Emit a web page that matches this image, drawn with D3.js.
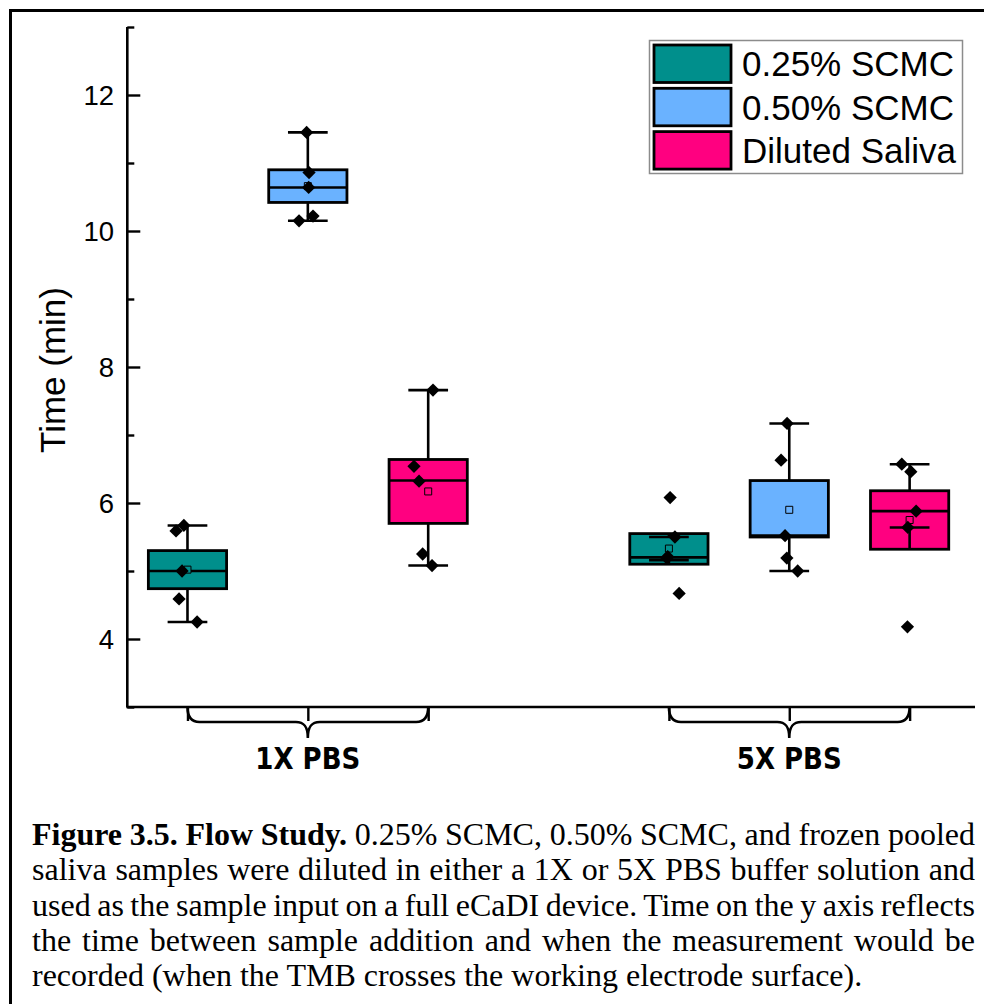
<!DOCTYPE html>
<html>
<head>
<meta charset="utf-8">
<script src="https://cdn.jsdelivr.net/npm/d3@7"></script>
<style>
  html, body { margin: 0; padding: 0; background: #fff; }
  #wrap { position: relative; width: 984px; height: 1004px; overflow: hidden; }
  svg { position: absolute; left: 0; top: 0; }
  #caption { position: absolute; left: 32px; top: 817px; width: 943px;
    font-family: "Liberation Serif", "Times New Roman", serif; font-size: 32px;
    line-height: 35.3px; color: #000; }
  #caption div { white-space: nowrap; }
  #caption span.ln { display: inline-block; }
</style>
</head>
<body>
<div id="wrap">
<svg id="chart" width="984" height="1004"></svg>
<div id="caption"></div>
</div>
<script>
// ---------------- data ----------------
const categories = ["0.25% SCMC", "0.50% SCMC", "Diluted Saliva"];
const colors = ["#008F8C", "#6AB2FF", "#FF0080"];
const groups = ["1X PBS", "5X PBS"];
const groupPositions = [[1, 2, 3], [5, 6, 7]];
const positions = [1, 2, 3, 5, 6, 7];
const boxSeries = [0, 1, 2, 0, 1, 2];
const boxLow = [4.74, 10.42, 5.70, 5.10, 5.50, 5.32];
const boxHigh = [5.30, 10.90, 6.64, 5.55, 6.33, 6.18];
const medians = [5.00, 10.64, 6.33, 5.20, 5.52, 5.88];
const whiskerLow = [4.25, 10.15, 5.08, 5.16, 5.00, 5.64];
const whiskerHigh = [5.67, 11.45, 7.66, 5.50, 7.17, 6.57];
const means = [5.02, 10.66, 6.17, 5.33, 5.90, 5.75];
const points = [
  [5.67, 5.59, 5.00, 4.59, 4.25],
  [11.45, 10.86, 10.64, 10.15, 10.22],
  [7.66, 6.54, 6.32, 5.25, 5.08],
  [6.08, 5.50, 5.21, 5.19, 4.67],
  [7.17, 6.63, 5.52, 5.19, 5.00],
  [6.57, 6.46, 5.88, 5.64, 4.18]
];
const jitter = [
  [-0.03, -0.095, -0.045, -0.07, 0.08],
  [-0.01, 0.01, 0.007, -0.073, 0.043],
  [0.04, -0.118, -0.076, -0.046, 0.032],
  [0.01, 0.05, -0.01, -0.017, 0.085],
  [-0.018, -0.068, -0.035, -0.02, 0.07],
  [-0.065, 0.01, 0.054, -0.015, -0.018]
];
const yMajorTicks = [4, 6, 8, 10, 12];
const yMinorTicks = [3, 5, 7, 9, 11, 13];
const yDomain = [3, 13];
const xDomain = [0.5, 7.5];
const yTitle = "Time (min)";
const captionLines = [
  ["Figure 3.5. Flow Study.", " 0.25% SCMC, 0.50% SCMC, and frozen pooled"],
  ["", "saliva samples were diluted in either a 1X or 5X PBS buffer solution and"],
  ["", "used as the sample input on a full eCaDI device. Time on the y axis reflects"],
  ["", "the time between sample addition and when the measurement would be"],
  ["", "recorded (when the TMB crosses the working electrode surface)."]
];

// ---------------- drawing ----------------
const svg = d3.select("#chart");
const sans = "'Liberation Sans', Arial, sans-serif";

// outer frame (top and left rules)
svg.append("line").attr("x1", 10).attr("y1", 10.5).attr("x2", 984).attr("y2", 10.5)
  .attr("stroke", "#000").attr("stroke-width", 3);
svg.append("line").attr("x1", 10.5).attr("y1", 9).attr("x2", 10.5).attr("y2", 1004)
  .attr("stroke", "#000").attr("stroke-width", 3);

const x = d3.scaleLinear().domain(xDomain).range([127.3, 969.8]);
const y = d3.scaleLinear().domain(yDomain).range([707, 27]);

const plot = svg.append("g");

// y axis
const yAxisMajor = d3.axisRight(y).tickValues(yMajorTicks).tickSize(13).tickFormat("");
const yAxisMinor = d3.axisRight(y).tickValues(yMinorTicks).tickSize(7).tickFormat("");
const gyMinor = plot.append("g").attr("transform", "translate(127.3,0)").call(yAxisMinor);
const gyMajor = plot.append("g").attr("transform", "translate(127.3,0)").call(yAxisMajor);
[gyMinor, gyMajor].forEach(g => {
  g.select(".domain").attr("stroke", "#000").attr("stroke-width", 2.6).attr("d", `M0,${y(13)}V${y(3)}`);
  g.selectAll(".tick line").attr("stroke", "#000").attr("stroke-width", 2.4);
});
gyMinor.select(".domain").remove();
// y tick labels
plot.append("g").selectAll("text").data(yMajorTicks).join("text")
  .attr("x", 114).attr("y", d => y(d)).attr("dy", "0.36em")
  .attr("text-anchor", "end").attr("font-family", sans).attr("font-size", 27.5)
  .text(d => d);
// y title
plot.append("text")
  .attr("transform", `translate(65,${(y(3) + y(13)) / 2 + 3}) rotate(-90)`)
  .attr("text-anchor", "middle").attr("font-family", sans).attr("font-size", 35)
  .text(yTitle);

// x axis
const xAxis = d3.axisBottom(x).tickValues(positions).tickSize(14).tickFormat("");
const gx = plot.append("g").attr("transform", `translate(0,${y(3)})`).call(xAxis);
gx.select(".domain").attr("stroke", "#000").attr("stroke-width", 2.6)
  .attr("d", `M${x(xDomain[0]) - 1},0H975`);
gx.selectAll(".tick line").attr("stroke", "#000").attr("stroke-width", 2.4);

// braces + group labels
const y0 = y(3), yH = y(3) + 15, yTip = y(3) + 31;
groupPositions.forEach((gp, gi) => {
  const x1 = x(gp[0]), xc = x(gp[1]), x3 = x(gp[2]);
  const r = 12;
  const path = `M${x1},${y0} C${x1},${yH - 6} ${x1 + 3},${yH} ${x1 + r},${yH}` +
    ` L${xc - r},${yH} C${xc - 4},${yH} ${xc},${yH + 4} ${xc},${yTip}` +
    ` C${xc},${yH + 4} ${xc + 4},${yH} ${xc + r},${yH}` +
    ` L${x3 - r},${yH} C${x3 - 3},${yH} ${x3},${yH - 6} ${x3},${y0}`;
  plot.append("path").attr("d", path).attr("fill", "none")
    .attr("stroke", "#000").attr("stroke-width", 2.6);
  plot.append("text").attr("x", xc).attr("y", yTip + 31)
    .attr("text-anchor", "middle").attr("font-family", "'DejaVu Sans', Verdana, sans-serif")
    .attr("font-weight", "bold").attr("font-size", 30)
    .attr("textLength", 105).attr("lengthAdjust", "spacingAndGlyphs")
    .text(groups[gi]);
});

// boxes
const boxHalf = x(1.325) - x(1);
const capHalf = x(1.165) - x(1);
positions.forEach((p, i) => {
  const cx = x(p);
  const col = colors[boxSeries[i]];
  const g = plot.append("g");
  g.append("rect").attr("x", cx - boxHalf).attr("y", y(boxHigh[i]))
    .attr("width", 2 * boxHalf).attr("height", y(boxLow[i]) - y(boxHigh[i]))
    .attr("fill", col).attr("stroke", "#000").attr("stroke-width", 2.8);
  // whiskers
  g.append("line").attr("x1", cx).attr("x2", cx).attr("y1", y(boxHigh[i])).attr("y2", y(whiskerHigh[i]))
    .attr("stroke", "#000").attr("stroke-width", 2.6);
  g.append("line").attr("x1", cx).attr("x2", cx).attr("y1", y(boxLow[i])).attr("y2", y(whiskerLow[i]))
    .attr("stroke", "#000").attr("stroke-width", 2.6);
  [whiskerHigh[i], whiskerLow[i]].forEach(v => {
    g.append("line").attr("x1", cx - capHalf).attr("x2", cx + capHalf).attr("y1", y(v)).attr("y2", y(v))
      .attr("stroke", "#000").attr("stroke-width", 2.6);
  });
  // median
  g.append("line").attr("x1", cx - boxHalf).attr("x2", cx + boxHalf).attr("y1", y(medians[i])).attr("y2", y(medians[i]))
    .attr("stroke", "#000").attr("stroke-width", 2.6);
  // mean
  g.append("path").attr("d", d3.symbol(d3.symbolSquare, 49)())
    .attr("transform", `translate(${cx},${y(means[i])})`)
    .attr("fill", col).attr("stroke", "#000").attr("stroke-width", 1);
  // data points
  g.selectAll(".pt").data(points[i]).join("path").attr("class", "pt")
    .attr("d", d3.symbol(d3.symbolSquare, 88)())
    .attr("transform", (v, k) => `translate(${x(p + jitter[i][k])},${y(v)}) rotate(45)`)
    .attr("fill", "#000");
});

// legend
const lg = svg.append("g");
lg.append("rect").attr("x", 649.5).attr("y", 40.5).attr("width", 313).attr("height", 133)
  .attr("fill", "#fff").attr("stroke", "#8c8c8c").attr("stroke-width", 1.5);
categories.forEach((c, i) => {
  const yy = 45 + i * 43.3;
  lg.append("rect").attr("x", 654).attr("y", yy).attr("width", 77).attr("height", 37.5)
    .attr("fill", colors[i]).attr("stroke", "#000").attr("stroke-width", 2.8);
  lg.append("text").attr("x", 742).attr("y", yy + 18.8).attr("dy", "0.36em")
    .attr("font-family", sans).attr("font-size", 35).text(c);
});

// caption: each line justified to the full width by adjusting word spacing
const cap = d3.select("#caption");
const capWidth = 943;
captionLines.forEach((ln, i) => {
  const d = cap.append("div");
  const s = d.append("span").attr("class", "ln");
  if (ln[0]) s.append("b").text(ln[0]);
  s.append("span").text(ln[1]);
  if (i < captionLines.length - 1) {
    const natural = s.node().getBoundingClientRect().width;
    const nSpaces = (ln[0] + ln[1]).trim().split(/\s+/).length - 1;
    s.style("word-spacing", ((capWidth - natural) / nSpaces) + "px");
  }
});
</script>
</body>
</html>
